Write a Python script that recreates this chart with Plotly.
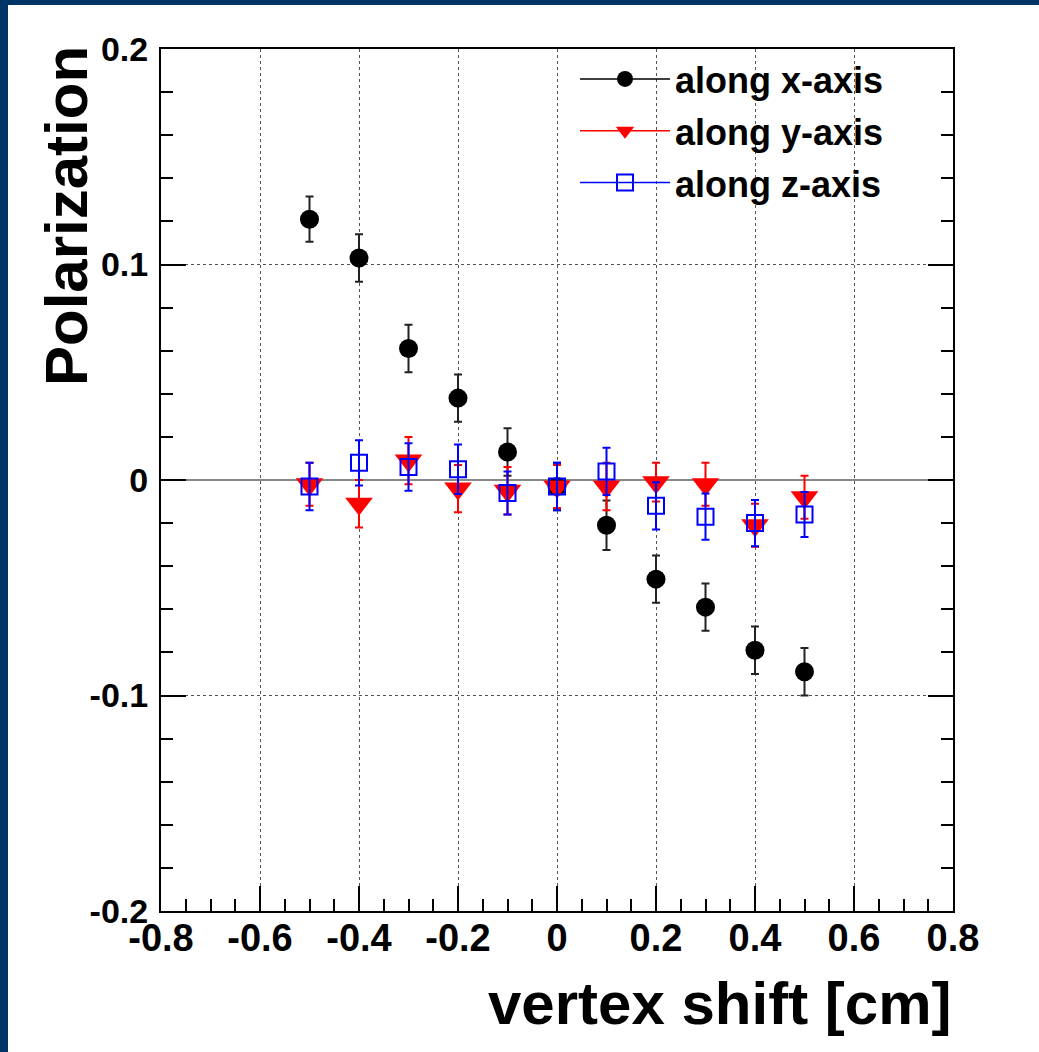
import plotly.graph_objects as go

# ---- data ----
shift = [-0.5, -0.4, -0.3, -0.2, -0.1, 0.0, 0.1, 0.2, 0.3, 0.4, 0.5]

pol_x = [0.121, 0.103, 0.061, 0.038, 0.013, -0.003, -0.021, -0.046, -0.059, -0.079, -0.089]
err_x = [0.0105, 0.011, 0.011, 0.011, 0.011, 0.011, 0.0115, 0.011, 0.011, 0.011, 0.011]

pol_y = [-0.002, -0.011, 0.009, -0.004, -0.005, -0.003, -0.003, -0.001, -0.002, -0.021, -0.008]
err_y = [0.010, 0.011, 0.011, 0.011, 0.011, 0.010, 0.011, 0.009, 0.010, 0.010, 0.010]

pol_z = [-0.003, 0.008, 0.006, 0.005, -0.006, -0.003, 0.004, -0.012, -0.017, -0.020, -0.016]
err_z = [0.011, 0.0105, 0.011, 0.0115, 0.010, 0.011, 0.011, 0.011, 0.0107, 0.0107, 0.0104]

series_names = ["along x-axis", "along y-axis", "along z-axis"]

x_tickvals = [-0.8, -0.6, -0.4, -0.2, 0.0, 0.2, 0.4, 0.6, 0.8]
x_ticktext = ["-0.8", "-0.6", "-0.4", "-0.2", "0", "0.2", "0.4", "0.6", "0.8"]
y_tickvals = [-0.2, -0.1, 0.0, 0.1, 0.2]
y_ticktext = ["-0.2", "-0.1", "0", "0.1", "0.2"]

FONT = "Liberation Sans"
W, H = 1039, 1052
L, R, T, B = 161, 86, 49, 141
PW, PH = W - L - R, H - T - B


def px_x(p):
    return (p - L) / PW


def px_y(p):
    return (H - B - p) / PH


fig = go.Figure()

styles = [
    dict(vals=pol_x, errs=err_x, color="black", ecolor="#222222",
         marker=dict(symbol="circle", size=19, color="black")),
    dict(vals=pol_y, errs=err_y, color="red", ecolor="red",
         marker=dict(symbol="triangle-down", size=24, color="red")),
    dict(vals=pol_z, errs=err_z, color="blue", ecolor="blue",
         marker=dict(symbol="square-open", size=16, color="blue", line=dict(width=2, color="blue"))),
]

for name, st in zip(series_names, styles):
    fig.add_trace(go.Scatter(
        x=shift, y=st["vals"], mode="markers", name=name, showlegend=False,
        marker=st["marker"],
        error_y=dict(type="data", array=st["errs"], visible=True,
                     color=st["ecolor"], thickness=2, width=4),
    ))

# legend entries (line + marker like the ROOT legend)
for i, (name, st) in enumerate(zip(series_names, styles)):
    fig.add_trace(go.Scatter(
        x=[None], y=[None], mode="lines+markers", name=name,
        legendgroup=f"g{i}",
        line=dict(color=st["color"], width=1.5),
        marker=st["marker"],
    ))

# dark blue frame (top and left bands)
band = "#003366"
fig.add_shape(type="rect", xref="paper", yref="paper",
              x0=px_x(0), x1=px_x(W), y0=px_y(5), y1=px_y(0),
              fillcolor=band, line_width=0, layer="above")
fig.add_shape(type="rect", xref="paper", yref="paper",
              x0=px_x(0), x1=px_x(8), y0=px_y(H), y1=px_y(0),
              fillcolor=band, line_width=0, layer="above")

fig.add_annotation(text="vertex shift [cm]", xref="paper", yref="paper",
                   x=1.0, y=px_y(1003), xanchor="right", yanchor="middle",
                   showarrow=False,
                   font=dict(family=FONT, size=60, color="black", weight="bold"))
fig.add_annotation(text="Polarization", xref="paper", yref="paper",
                   x=px_x(66), y=px_y(44), xanchor="center", yanchor="top",
                   textangle=-90, showarrow=False,
                   font=dict(family=FONT, size=60, color="black", weight="bold"))

fig.update_layout(
    width=W, height=H,
    margin=dict(l=L, r=R, t=T, b=B, pad=0),
    paper_bgcolor="white", plot_bgcolor="white",
    showlegend=True,
    legend=dict(x=px_x(575), y=px_y(49), xanchor="left", yanchor="top",
                bgcolor="rgba(0,0,0,0)", borderwidth=0,
                font=dict(family=FONT, size=36, color="black", weight="bold"),
                itemwidth=90, tracegroupgap=2, traceorder="grouped"),
    xaxis=dict(range=[-0.8, 0.8], tickvals=x_tickvals, ticktext=x_ticktext,
               showline=True, linecolor="black", linewidth=2, mirror=True,
               ticks="inside", ticklen=25, tickwidth=2, tickcolor="black",
               minor=dict(dtick=0.05, ticks="inside", ticklen=12, tickwidth=2,
                          tickcolor="black", showgrid=False),
               showgrid=True, gridcolor="#555555", griddash="dot", gridwidth=1,
               zeroline=False,
               tickfont=dict(family=FONT, size=38, color="black", weight="bold"),
               ticklabelstandoff=-8),
    yaxis=dict(range=[-0.2, 0.2], tickvals=y_tickvals, ticktext=y_ticktext,
               showline=True, linecolor="black", linewidth=2, mirror="ticks",
               ticks="inside", ticklen=25, tickwidth=2, tickcolor="black",
               minor=dict(dtick=0.02, ticks="inside", ticklen=12, tickwidth=2,
                          tickcolor="black", showgrid=False),
               showgrid=True, gridcolor="#555555", griddash="dot", gridwidth=1,
               zeroline=True, zerolinecolor="#888888", zerolinewidth=2,
               tickfont=dict(family=FONT, size=34, color="black", weight="bold"),
               ticklabelstandoff=4),
)

fig.write_html("out.html")
